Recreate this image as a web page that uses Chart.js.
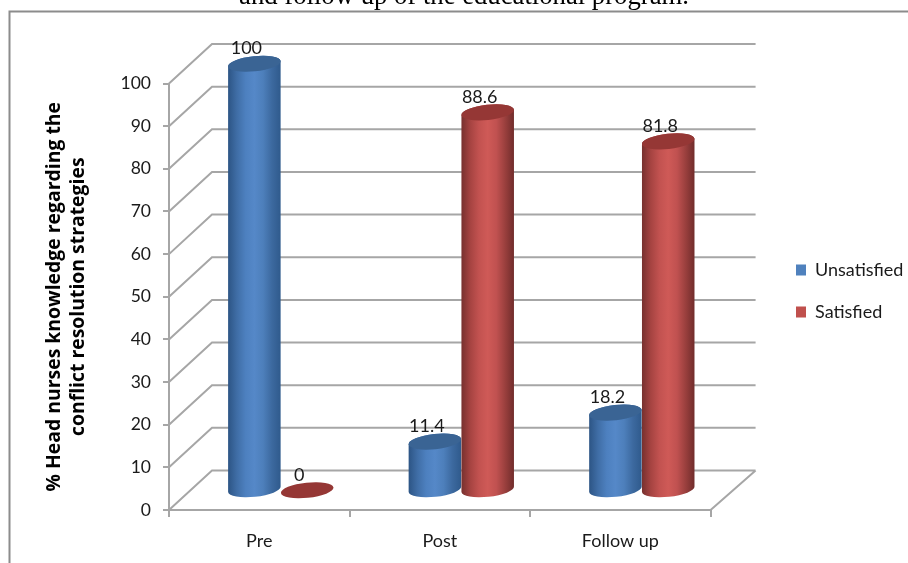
<!DOCTYPE html>
<html>
<head>
<meta charset="utf-8">
<style>html,body{margin:0;padding:0;background:#fff}canvas{display:block}</style>
<script src="https://cdn.jsdelivr.net/npm/chart.js@4"></script>
</head>
<body>
<canvas id="c" width="908" height="563"></canvas>
<script>
const categories = ["Pre", "Post", "Follow up"];
const unsatisfied = [100, 11.4, 18.2];
const satisfied = [0, 88.6, 81.8];
const yTicks = [0, 10, 20, 30, 40, 50, 60, 70, 80, 90, 100];
const chartTitle = "and follow up of the educational program.";
const yTitle = ["% Head nurses knowledge regarding the", "conflict resolution strategies"];

const FONT = 'Lato, sans-serif';
const GRID = "#a6a6a6";
const DEPTH_X = 43, DEPTH_Y = 39.5;

const looks = [
  {stops: ["#2c5484", "#3f6da5", "#4d80bf", "#5588c8", "#4d7fbb", "#3c699f", "#2f5a8c"], top: "#3a6494"},
  {stops: ["#76302e", "#a54341", "#c25250", "#cf5a57", "#c05150", "#993f3d", "#702c2b"], top: "#953735"}
];

function cylinder(ctx, el, look, value) {
  const a = el.width / 2, b = 7.6, rot = -0.105;
  const cx = el.x + DEPTH_X / 2;
  const topY = el.y - DEPTH_Y / 2;
  const botY = el.base - DEPTH_Y / 2;
  if (value > 0) {
    const g = ctx.createLinearGradient(cx - a, 0, cx + a, 0);
    look.stops.forEach((c, i) => g.addColorStop(i / (look.stops.length - 1), c));
    ctx.beginPath();
    ctx.ellipse(cx, topY, a, b, rot, Math.PI, 0, false);
    ctx.ellipse(cx, botY, a, b, rot, 0, Math.PI, false);
    ctx.closePath();
    ctx.fillStyle = g;
    ctx.fill();
  }
  ctx.beginPath();
  ctx.ellipse(cx, topY, a, b, rot, 0, Math.PI * 2);
  ctx.fillStyle = look.top;
  ctx.fill();
}

const scene = {
  id: "scene",
  afterLayout(chart) {
    const l = chart.legend;
    const w = l.right - l.left;
    l.left = 772; l.right = l.left + w;
    const h = l.bottom - l.top;
    l.top = 237; l.bottom = l.top + h;
    const t = chart.titleBlock;
    t.left += 38; t.right += 38;
  },
  beforeDraw(chart) {
    const ctx = chart.ctx;
    ctx.save();
    ctx.strokeStyle = "#8c8c8c";
    ctx.lineWidth = 2;
    ctx.beginPath();
    ctx.moveTo(9.5, 563); ctx.lineTo(9.5, 11.5); ctx.lineTo(908, 11.5);
    ctx.stroke();
    ctx.restore();
  },
  beforeDatasetsDraw(chart) {
    const ctx = chart.ctx, y = chart.scales.y, area = chart.chartArea;
    ctx.save();
    ctx.strokeStyle = GRID;
    ctx.lineWidth = 2;
    ctx.beginPath();
    y.ticks.forEach(t => {
      const py = y.getPixelForValue(t.value);
      ctx.moveTo(area.left, py);
      ctx.lineTo(area.left + DEPTH_X, py - DEPTH_Y);
      ctx.lineTo(area.right + DEPTH_X + 2, py - DEPTH_Y);
    });
    const py0 = y.getPixelForValue(0);
    ctx.moveTo(area.right, py0);
    ctx.lineTo(area.right + DEPTH_X + 2, py0 - DEPTH_Y);
    ctx.stroke();
    ctx.restore();
  },
  beforeDatasetDraw() { return false; },
  afterDatasetsDraw(chart) {
    const ctx = chart.ctx;
    ctx.save();
    chart.data.datasets.forEach((ds, i) => {
      chart.getDatasetMeta(i).data.forEach((el, j) => cylinder(ctx, el, looks[i], ds.data[j]));
    });
    ctx.fillStyle = "#1a1a1a";
    ctx.font = "18px " + FONT;
    ctx.textAlign = "center";
    ctx.textBaseline = "middle";
    chart.data.datasets.forEach((ds, i) => {
      chart.getDatasetMeta(i).data.forEach((el, j) => {
        ctx.fillText(String(ds.data[j]), el.x + DEPTH_X / 2 - 8, el.y - DEPTH_Y / 2 - 15.5);
      });
    });
    ctx.restore();
  }
};

new Chart(document.getElementById("c"), {
  type: "bar",
  data: {
    labels: categories,
    datasets: [
      {label: "Unsatisfied", data: unsatisfied, backgroundColor: "#4f81bd", borderColor: "#4f81bd"},
      {label: "Satisfied", data: satisfied, backgroundColor: "#c0504d", borderColor: "#c0504d"}
    ]
  },
  options: {
    responsive: false,
    animation: false,
    layout: {padding: {top: 0, left: 0, right: 56, bottom: 0}},
    datasets: {bar: {categoryPercentage: 0.585, barPercentage: 1}},
    plugins: {
      title: {
        display: true, text: chartTitle, position: "top", align: "center",
        color: "#000", font: {family: '"Liberation Serif", serif', size: 26.7, weight: "normal"},
        padding: {top: -19, bottom: 70.5}
      },
      legend: {
        position: "right", align: "start",
        labels: {boxWidth: 10, boxHeight: 11, padding: 24, color: "#1a1a1a", font: {family: FONT, size: 18}}
      },
      tooltip: {enabled: false}
    },
    scales: {
      x: {
        afterFit(s) { s.height = 53; },
        grid: {offset: true, drawOnChartArea: false, color: GRID, lineWidth: 2, tickLength: 7},
        border: {color: GRID, width: 2},
        ticks: {color: "#1a1a1a", font: {family: FONT, size: 18}, padding: 13, maxRotation: 0}
      },
      y: {
        min: 0, max: 100,
        afterFit(s) { s.width = 169; },
        afterBuildTicks(s) { s.ticks = yTicks.map(v => ({value: v})); },
        grid: {drawOnChartArea: false, color: GRID, lineWidth: 2, tickLength: 6},
        border: {color: GRID, width: 2},
        ticks: {color: "#1a1a1a", font: {family: FONT, size: 17.5}, padding: 12},
        title: {display: true, text: yTitle, color: "#000", font: {family: '"Open Sans", sans-serif', size: 19.4, weight: "bold", lineHeight: 1.25}, padding: {top: 42, bottom: 0}}
      }
    }
  },
  plugins: [scene]
});
</script>
</body>
</html>
